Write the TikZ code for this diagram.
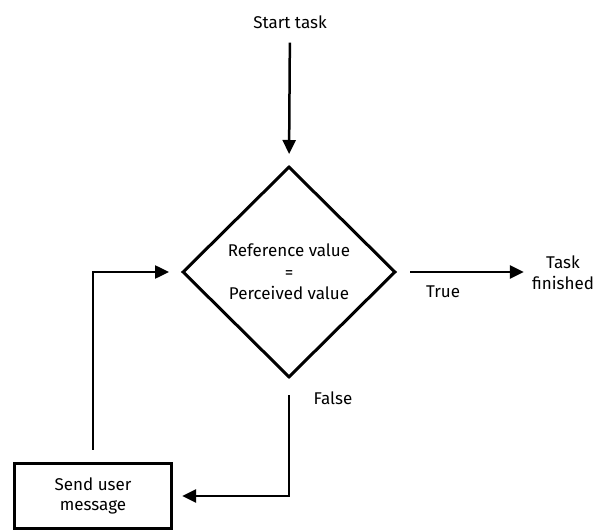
\documentclass[tikz,border=0pt]{standalone}
\usepackage{fontspec}
\setmainfont{Fira Sans}
\usetikzlibrary{shapes.geometric,arrows.meta}
\begin{document}
\begin{tikzpicture}[x=1pt,y=-1pt,
  lbl/.style={font=\fontsize{17}{21}\selectfont, inner sep=0pt, align=center},
  decision/.style={diamond, draw, line width=3pt, minimum width=213pt, minimum height=211pt, inner sep=0pt, align=center, font=\fontsize{17}{21.5}\selectfont},
  procbox/.style={rectangle, draw, line width=3.3pt, minimum width=157pt, minimum height=65pt, inner sep=0pt, align=center, font=\fontsize{17}{20.5}\selectfont},
  arr/.style={line width=2.5pt, -{Triangle[length=14pt,width=13pt]}}]
\useasboundingbox (0,0) rectangle (595,532);
\node[lbl] (start) at (290,22) {Start task};
\node[decision] (dia) at (289,272) {Reference value\\=\\Perceived value};
\node[lbl] (task) at (563,273) {Task\\finished};
\node[lbl] (true) at (443,292) {True};
\node[lbl] (false) at (333,398) {False};
\node[procbox] (box) at (93,496) {Send user\\message};
\draw[arr, shorten <=14pt, shorten >=11pt] (start) -- (dia.north);
\draw[arr, shorten <=13pt, shorten >=8pt] (dia.east) -- (dia.east -| task.west);
\draw[arr, shorten <=16pt, shorten >=9pt] (dia.south) |- (box.east);
\draw[arr, shorten <=12pt, shorten >=12pt] (box.north) |- (dia.west);
\end{tikzpicture}
\end{document}
